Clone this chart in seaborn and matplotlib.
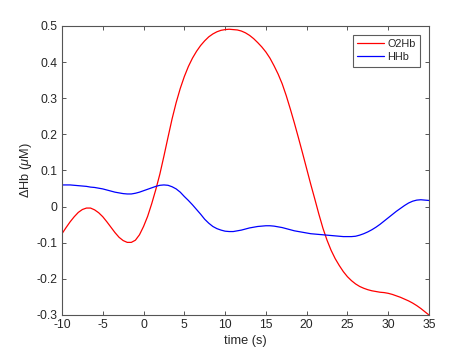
import matplotlib
matplotlib.use("Agg")
import matplotlib.pyplot as plt
import pandas as pd
import seaborn as sns

# values, one every half second from -10 s to 35 s
time_s = [i / 2 for i in range(-20, 71)]
o2hb = [
    -0.075, -0.058, -0.042, -0.028, -0.016, -0.008, -0.004, -0.004, -0.009, -0.017,
    -0.028, -0.042, -0.057, -0.072, -0.085, -0.094, -0.099, -0.099, -0.093, -0.078,
    -0.055, -0.027, 0.008, 0.047, 0.090, 0.140, 0.192, 0.243, 0.288, 0.327,
    0.360, 0.388, 0.411, 0.430, 0.446, 0.459, 0.470, 0.478, 0.484, 0.488,
    0.490, 0.491, 0.490, 0.489, 0.486, 0.481, 0.474, 0.465, 0.454, 0.442,
    0.428, 0.411, 0.390, 0.367, 0.340, 0.307, 0.270, 0.231, 0.190, 0.148,
    0.105, 0.062, 0.021, -0.021, -0.060, -0.093, -0.121, -0.144, -0.163, -0.180,
    -0.194, -0.205, -0.214, -0.221, -0.226, -0.230, -0.233, -0.235, -0.237, -0.238,
    -0.240, -0.243, -0.247, -0.251, -0.256, -0.261, -0.267, -0.274, -0.282, -0.291,
    -0.300,
]
hhb = [
    0.060, 0.060, 0.060, 0.059, 0.058, 0.057, 0.056, 0.054, 0.053, 0.051,
    0.049, 0.046, 0.043, 0.040, 0.038, 0.036, 0.035, 0.035, 0.037, 0.040,
    0.044, 0.048, 0.052, 0.056, 0.059, 0.060, 0.059, 0.055, 0.049, 0.040,
    0.028, 0.017, 0.005, -0.008, -0.021, -0.035, -0.046, -0.055, -0.061, -0.065,
    -0.068, -0.069, -0.069, -0.067, -0.065, -0.062, -0.059, -0.057, -0.055, -0.054,
    -0.053, -0.053, -0.054, -0.056, -0.058, -0.061, -0.064, -0.067, -0.069, -0.071,
    -0.073, -0.075, -0.076, -0.077, -0.078, -0.079, -0.080, -0.081, -0.082, -0.083,
    -0.083, -0.083, -0.082, -0.079, -0.075, -0.070, -0.064, -0.057, -0.049, -0.040,
    -0.031, -0.022, -0.013, -0.005, 0.003, 0.010, 0.015, 0.018, 0.019, 0.018,
    0.017,
]
series_names = ["O2Hb", "HHb"]
series_colors = {"O2Hb": "#ff0000", "HHb": "#0000ff"}
x_ticks = [-10, -5, 0, 5, 10, 15, 20, 25, 30, 35]
y_ticks = [-0.3, -0.2, -0.1, 0, 0.1, 0.2, 0.3, 0.4, 0.5]
y_tick_labels = ["-0.3", "-0.2", "-0.1", "0", "0.1", "0.2", "0.3", "0.4", "0.5"]

df = pd.DataFrame({
    "time": time_s * 2,
    "value": o2hb + hhb,
    "signal": ["O2Hb"] * len(time_s) + ["HHb"] * len(time_s),
})

sns.set_style("ticks")
plt.rcParams["font.family"] = ["Liberation Sans", "DejaVu Sans"]
plt.rcParams["mathtext.fontset"] = "custom"
plt.rcParams["mathtext.rm"] = "Liberation Sans"
plt.rcParams["mathtext.it"] = "Liberation Sans:italic"

fig = plt.figure(figsize=(4.74, 3.55), dpi=100)
ax = fig.add_axes([0.1308, 0.1127, 0.7742, 0.8141])

sns.lineplot(data=df, x="time", y="value", hue="signal", hue_order=series_names,
             palette=series_colors, linewidth=0.9, ax=ax)

ax.set_xlim(-10, 35)
ax.set_ylim(-0.3, 0.5)
ax.set_xticks(x_ticks)
ax.set_xticklabels([str(v) for v in x_ticks])
ax.set_yticks(y_ticks)
ax.set_yticklabels(y_tick_labels)
ax.tick_params(direction="in", top=True, right=True, length=3, width=0.7,
               colors="#555555", labelcolor="#262626", labelsize=8.7, pad=3)
for side in ax.spines.values():
    side.set_color("#555555")
    side.set_linewidth(0.8)

ax.set_xlabel("time (s)", fontsize=9.2, color="#262626", labelpad=3)
ax.set_ylabel(r"$\Delta$Hb ($\mu$M)", fontsize=9.2, color="#262626", labelpad=2)

leg = ax.legend(loc="upper right", fontsize=7.8, frameon=True, fancybox=False,
                edgecolor="#333333", handlelength=2.5, handletextpad=0.3,
                borderpad=0.4, labelspacing=0.3, borderaxespad=0.8)
leg.get_frame().set_linewidth(0.8)

fig.savefig("out.png", dpi=100)
